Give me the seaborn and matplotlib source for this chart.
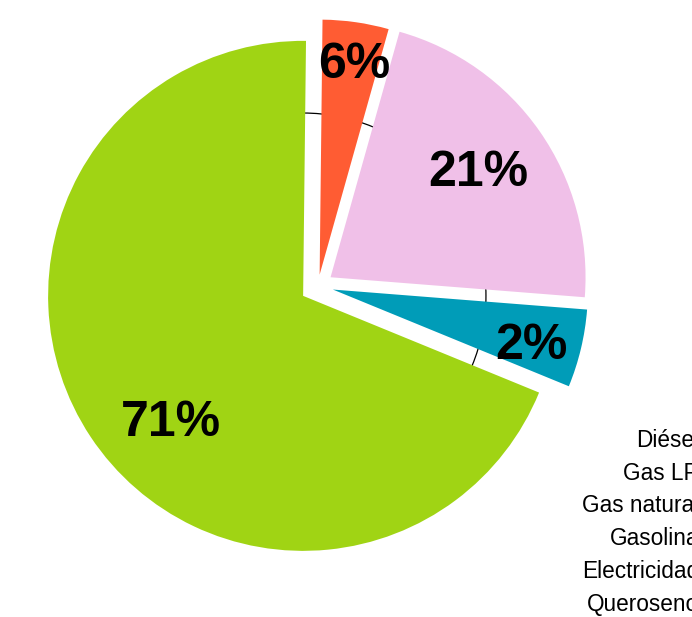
import matplotlib
matplotlib.use("Agg")
import matplotlib.pyplot as plt
import seaborn as sns
import numpy as np

sns.set_theme(style="white")
plt.rcParams['font.family'] = ['Liberation Sans', 'DejaVu Sans']

# Data (wedges counterclockwise from the top)
shares = [68.99, 4.94, 21.89, 4.18]
pct_labels = ["71%", "2%", "21%", "6%"]
colors = ["#A0D414", "#009CB8", "#F0C0E8", "#FF5C33"]
categories = ["Diésel", "Gas LP", "Gas natural", "Gasolina", "Electricidad", "Queroseno"]

# Layout
explode = [0.07, 0.06, 0.06, 0.045]
label_r = [0.718, 0.808, 0.708, 0.833]
label_dth = [10.4, -2.5, 0.3, -1.1]

W, H = 692, 617
R = 255.0
cx, cy = 318.0, 286.0

fig = plt.figure(figsize=(W / 100, H / 100), dpi=100)
ax = fig.add_axes([0, 0, 1, 1])

wedges, _ = ax.pie(shares, colors=colors, explode=explode, startangle=89.35,
                   counterclock=True, radius=1,
                   wedgeprops=dict(linewidth=0))

# thin reference circle behind the slices
gc = wedges[0].center
ax.add_patch(plt.Circle(gc, 0.717, fill=False, edgecolor="black", lw=0.9, zorder=0))

for w, lab, r, dth in zip(wedges, pct_labels, label_r, label_dth):
    th = np.deg2rad((w.theta1 + w.theta2) / 2 + dth)
    x0, y0 = w.center
    ax.text(x0 + r * np.cos(th), y0 + r * np.sin(th), lab, ha="center", va="center",
            fontsize=36, fontweight="bold", color="black")

ax.set_xlim(-cx / R, (W - cx) / R)
ax.set_ylim(-(H - cy) / R, cy / R)
ax.set_aspect("auto")
ax.axis("off")

# legend labels (right-aligned, running off the right edge as in the reference)
for i, cat in enumerate(categories):
    base = 447 + 32.7 * i
    fig.text(699 / W, 1 - base / H, cat, ha="right", va="baseline",
             fontsize=16.3, color="black")

fig.savefig("out.png", dpi=100)
